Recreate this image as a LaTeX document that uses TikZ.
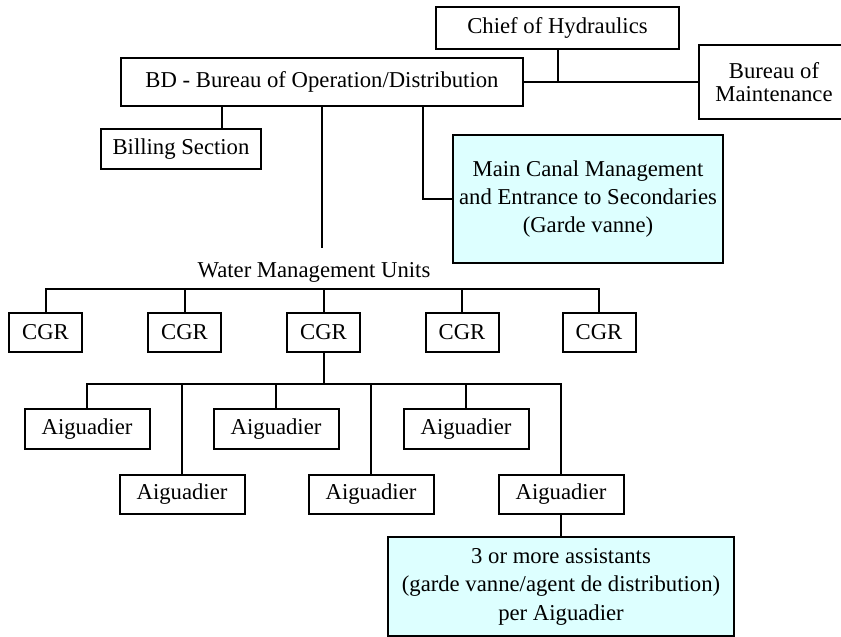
\documentclass[tikz,border=0pt]{standalone}
\usepackage{fontspec}
\setmainfont{Liberation Serif}
\definecolor{boxcyan}{HTML}{DDFFFF}
\begin{document}
\begin{tikzpicture}[x=1pt,y=-1pt,
  every node/.style={font=\fontsize{22.7}{28}\selectfont, inner sep=0pt},
  ob/.style={draw, line width=2pt, rectangle, align=center},
  cy/.style={ob, fill=boxcyan},
  ln/.style={line width=2pt}]
\useasboundingbox (0,0) rectangle (841,637);
\clip (0,0) rectangle (841,637);
% top level
\node[ob, minimum width=243, minimum height=42] (chief) at (557.5,28) {Chief of Hydraulics};
\node[ob, minimum width=402, minimum height=48] (bd) at (322,82) {BD - Bureau of Operation/Distribution};
\node[ob, minimum width=150, minimum height=74, font=\fontsize{22.7}{23}\selectfont] (bm) at (774,82) {Bureau of\\Maintenance};
\node[ob, minimum width=160, minimum height=40] (bill) at (181,149) {Billing Section};
\node[cy, minimum width=270, minimum height=128] (mcm) at (588,199) {Main Canal Management\\and Entrance to Secondaries\\(Garde vanne)};
\node[anchor=base] (wmu) at (314,277) {Water Management Units};
\coordinate (wmutop) at (322,248);
% CGR level
\foreach \i/\x in {1/45.5,2/184.5,3/323.5,4/462,5/599}
  \node[ob, minimum width=73, minimum height=39] (cgr\i) at (\x,332.5) {CGR};
\coordinate (cbar) at (0,289);
% Aiguadier level
\node[ob, minimum width=125, minimum height=40] (a1) at (87,429) {Aiguadier};
\node[ob, minimum width=125, minimum height=39] (a2) at (182,494.5) {Aiguadier};
\node[ob, minimum width=125, minimum height=40] (a3) at (276,429) {Aiguadier};
\node[ob, minimum width=125, minimum height=39] (a4) at (371,494.5) {Aiguadier};
\node[ob, minimum width=125, minimum height=40] (a5) at (466,429) {Aiguadier};
\node[ob, minimum width=125, minimum height=39] (a6) at (561,494.5) {Aiguadier};
\coordinate (abar) at (0,384);
\node[cy, minimum width=346, minimum height=99, font=\fontsize{22.7}{28.5}\selectfont] (asst) at (561,586.5) {3 or more assistants\\(garde vanne/agent de distribution)\\per Aiguadier};
% connectors
\draw[ln] (chief.south) -- (chief.south |- bd.east);
\draw[ln] (bd.east) -- (bm.west);
\draw[ln] ([xshift=41pt]bill.north) -- ([xshift=41pt]bill.north |- bd.south);
\draw[ln] (mcm.west) -| ([xshift=101pt]bd.south);
\draw[ln] (bd.south) -- (wmutop);
\draw[ln] (cgr1.north) -- (cgr1.north |- cbar) -- (cgr5.north |- cbar) -- (cgr5.north);
\foreach \i in {2,3,4} \draw[ln] (cgr\i.north) -- (cgr\i.north |- cbar);
\draw[ln] (cgr3.south) -- (cgr3.south |- abar);
\draw[ln] (a1.north) -- (a1.north |- abar) -- (a6.north |- abar) -- (a6.north);
\foreach \i in {2,3,4,5} \draw[ln] (a\i.north) -- (a\i.north |- abar);
\draw[ln] (a6.south) -- (asst.north);
\end{tikzpicture}
\end{document}
